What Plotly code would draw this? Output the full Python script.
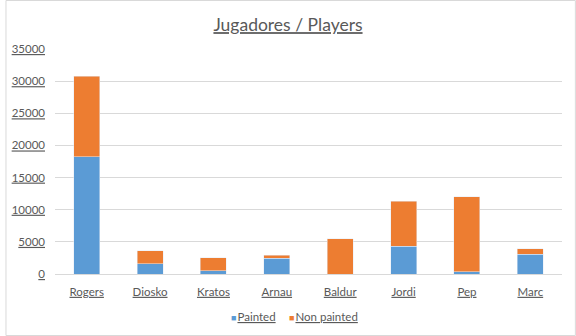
import plotly.graph_objects as go

players = ["Rogers", "Diosko", "Kratos", "Arnau", "Baldur", "Jordi", "Pep", "Marc"]
painted = [18250, 1600, 500, 2450, 0, 4350, 350, 3100]
non_painted = [12550, 2000, 2000, 500, 5450, 7000, 11650, 800]
y_ticks = [0, 5000, 10000, 15000, 20000, 25000, 30000, 35000]
series_names = ["Painted", "Non painted"]
series_colors = ["#5B9BD5", "#ED7D31"]

W, H = 576, 336
L, R, T, B = 50, 14, 49, 62

fig = go.Figure()
fig.add_trace(go.Bar(x=players, y=painted, name=series_names[0], marker_color=series_colors[0]))
fig.add_trace(go.Bar(x=players, y=non_painted, name=series_names[1], marker_color=series_colors[1]))

pw, ph = W - L - R, H - T - B
fig.add_shape(type="rect", xref="paper", yref="paper",
              x0=(-L + 0.5) / pw, x1=(pw + R - 0.5) / pw,
              y0=(-B + 0.5) / ph, y1=(ph + T - 0.5) / ph,
              line=dict(color="#d9d9d9", width=1), fillcolor="rgba(0,0,0,0)", layer="below")

legend_x = [226, 284]
for n, c, lx in zip(series_names, series_colors, legend_x):
    fig.add_annotation(
        text=f"<span style='color:{c};font-size:9px'>■</span><span style='font-size:4px'>&nbsp;</span><u>{n}</u>",
        xref="paper", yref="paper",
        x=(lx - L) / pw, y=-(316 - (T + ph)) / ph,
        xanchor="left", yanchor="middle", showarrow=False,
        font=dict(size=11.5, color="#595959"))

fig.update_layout(
    width=W, height=H,
    margin=dict(l=L, r=R, t=T, b=B),
    barmode="stack", bargap=0.59, showlegend=False,
    paper_bgcolor="white", plot_bgcolor="white",
    font=dict(family="Lato, Open Sans, sans-serif", size=11.5, color="#595959"),
    title=dict(text="<u>Jugadores / Players</u>", x=0.5, xanchor="center",
               y=1 - 25 / H, yref="container", yanchor="middle",
               font=dict(size=17.5, color="#595959")),
    xaxis=dict(tickvals=players, ticktext=[f"<u>{p}</u>" for p in players],
               showline=True, linecolor="#d9d9d9", ticks="", showgrid=False,
               ticklabelstandoff=7),
    yaxis=dict(range=[0, 35000], tickvals=y_ticks, ticktext=[f"<u>{v}</u>" for v in y_ticks],
               showgrid=True, gridcolor="#d9d9d9", zeroline=False, showline=False, ticks="",
               ticklabelstandoff=9),
)

fig.write_html("out.html")
